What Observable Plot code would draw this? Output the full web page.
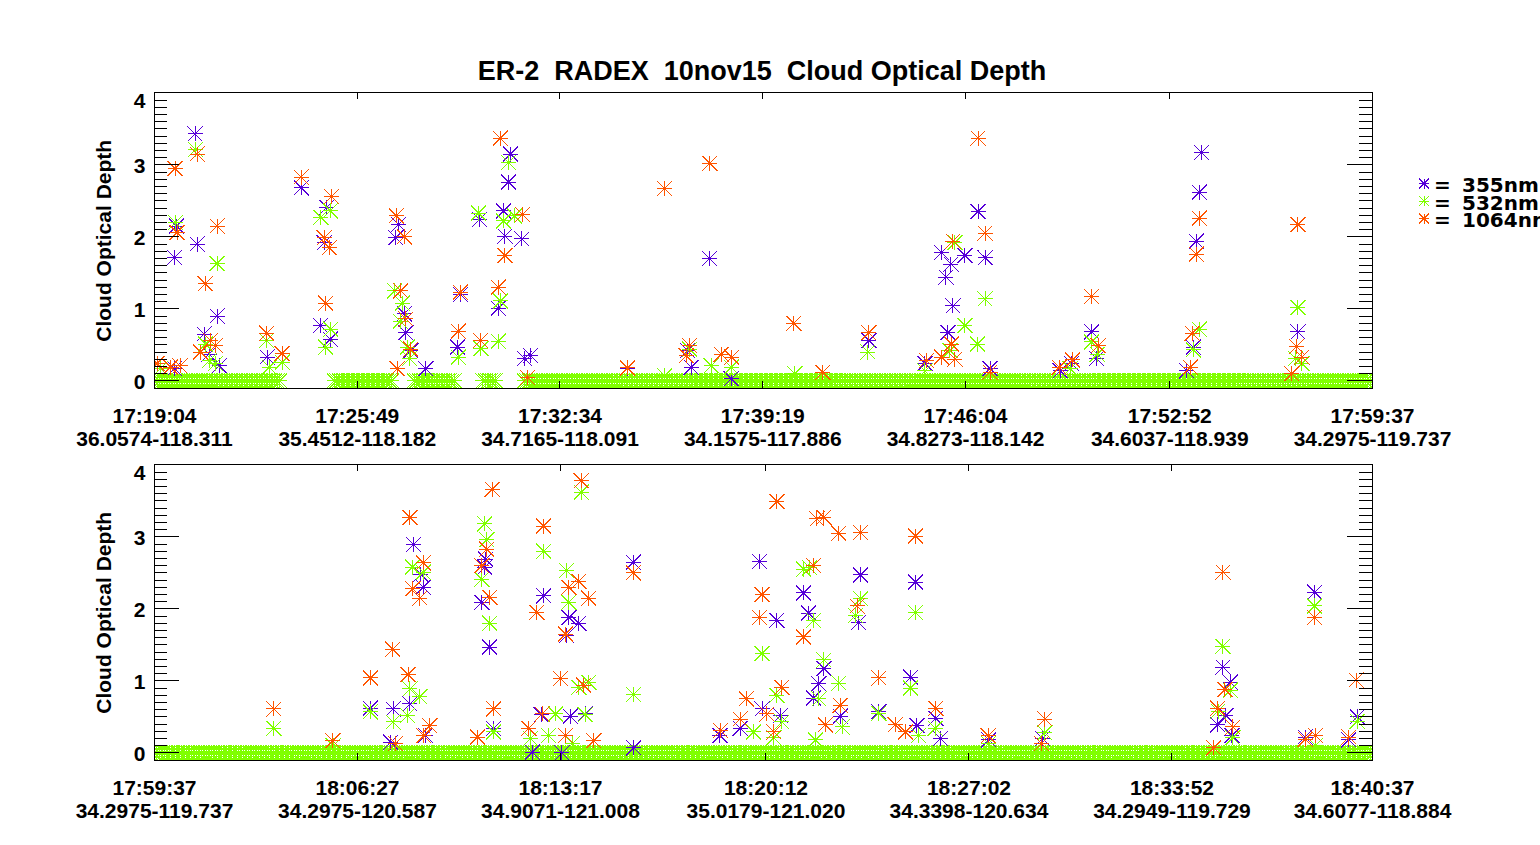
<!DOCTYPE html>
<html>
<head>
<meta charset="utf-8">
<script src="https://cdn.jsdelivr.net/npm/d3@7"></script>
<script src="https://cdn.jsdelivr.net/npm/@observablehq/plot@0.6"></script>
<style>
  html, body { margin: 0; padding: 0; background: #fff; width: 1540px; height: 845px; overflow: hidden; }
  #wrap { position: relative; width: 1540px; height: 845px; }
  .abs { position: absolute; left: 0; }
</style>
</head>
<body>
<div id="wrap">
  <svg id="overlay" class="abs" style="top:0" width="1540" height="845"></svg>
  <div id="p1" class="abs" style="top:0"></div>
  <div id="p2" class="abs" style="top:450px"></div>
</div>
<script>
// ---------------- DATA ----------------
const title = "ER-2  RADEX  10nov15  Cloud Optical Depth";
const yTitle = "Cloud Optical Depth";
const seriesLabels = ["355nm", "532nm", "1064nm"];
const yTickValues = [0, 1, 2, 3, 4];

// Panel 1 tick labels
const p1Times = ["17:19:04", "17:25:49", "17:32:34", "17:39:19", "17:46:04", "17:52:52", "17:59:37"];
const p1Locs = ["36.0574-118.311", "35.4512-118.182", "34.7165-118.091", "34.1575-117.886", "34.8273-118.142", "34.6037-118.939", "34.2975-119.737"];
// Panel 2 tick labels
const p2Times = ["17:59:37", "18:06:27", "18:13:17", "18:20:12", "18:27:02", "18:33:52", "18:40:37"];
const p2Locs = ["34.2975-119.737", "34.2975-120.587", "34.9071-121.008", "35.0179-121.020", "34.3398-120.634", "34.2949-119.729", "34.6077-118.884"];

// Sampling interval (s) of the 532nm record where it is exactly zero (clear sky)
const sampleStep = 5;
// Runs [start s, end s] of zero-valued 532nm samples (seconds after panel start)
const p1ZeroRuns = [[0, 251], [359, 475], [519, 601], [656, 681], [739, 2433]];
const p2ZeroRuns = [[0, 2460]];

// Cloud optical depth samples: [seconds after panel start, value]
const p1_355 = [[40,0.17],[81,3.43],[40,1.71],[44,2.15],[85,1.90],[125,0.90],[99,0.65],[109,0.37],[129,0.21],[225,0.33],[293,2.68],[344,2.41],[339,1.92],[332,0.77],[351,0.58],[487,2.17],[482,1.99],[499,0.93],[502,0.67],[512,0.42],[542,0.17],[611,1.20],[605,0.47],[649,2.24],[651,0.56],[711,3.15],[707,2.76],[697,2.36],[700,2.01],[734,1.97],[687,1.01],[739,0.31],[751,0.35],
  [1109,1.70],[1065,0.42],[1072,0.19],[1152,0.03],[1427,0.56],[1539,0.24],[1572,1.78],[1591,1.62],[1581,1.44],[1619,1.74],[1595,1.04],[1585,0.67],[945,0.17],
  [1645,2.35],[1659,1.71],[1669,0.17],[1809,0.14],[1832,0.24],[1872,0.68],[1882,0.31],[2091,3.17],[2087,2.62],[2081,1.94],[2075,0.47],[2284,0.68],[2062,0.14]];
const p1_532 = [[82,3.21],[42,2.20],[125,1.63],[102,0.51],[109,0.28],[122,0.24],[12,0.17],[224,0.56],[229,0.19],[255,0.26],[332,2.27],[351,2.36],[352,0.72],[342,0.47],[480,1.25],[495,1.08],[491,0.83],[505,0.47],[509,0.31],[607,0.33],[647,2.33],[652,0.45],[707,3.03],[697,2.22],[719,2.29],[687,0.55],[691,1.11],
  [1599,1.92],[1619,0.77],[1589,0.42],[1425,0.40],[1069,0.44],[1112,0.21],[1152,0.19],[1279,0.10],[1019,0.07],[1539,0.14],
  [1659,1.14],[1644,0.51],[1872,0.54],[1883,0.37],[1829,0.17],[2087,0.72],[2075,0.43],[2284,1.02],[2279,0.31],[2292,0.24]];
const p1_1064 = [[5,0.24],[32,0.19],[51,0.21],[41,2.95],[45,2.06],[85,3.15],[125,2.15],[101,1.35],[112,0.56],[122,0.49],[92,0.40],[224,0.66],[255,0.38],[293,2.83],[353,2.56],[339,1.99],[349,1.85],[342,1.08],[483,2.29],[499,2.00],[492,1.25],[502,0.86],[512,0.44],[485,0.17],[611,1.23],[607,0.69],[651,0.56],[691,3.37],[735,2.31],[700,1.74],[687,1.30],[745,0.05],
  [1109,3.02],[1019,2.67],[1277,0.80],[1427,0.67],[1132,0.37],[1153,0.33],[1069,0.49],[1062,0.35],[945,0.18],[1542,0.28],[1572,0.33],[1592,0.51],[1599,0.30],[1595,1.94],[1335,0.12],
  [1645,3.37],[1659,2.05],[1872,1.17],[1885,0.49],[1834,0.29],[1807,0.19],[2087,2.26],[2081,1.76],[2073,0.66],[2069,0.19],[2284,2.17],[2281,0.48],[2292,0.33],[2272,0.10],[1669,0.12]];

const p2_355 = [[436,0.62],[482,0.61],[516,0.68],[523,2.89],[538,2.48],[543,2.30],[677,1.47],[661,2.09],[669,2.69],[667,2.58],[786,2.18],[781,0.53],[685,0.34],[763,0.01],[547,0.24],[477,0.15],
  [967,2.65],[837,1.88],[857,1.80],[832,1.63],[877,0.98],[840,0.51],[870,0.54],[1222,2.66],[1257,1.84],[1311,2.22],[1321,1.94],[1352,1.17],[1342,0.96],[1331,0.76],[1426,2.47],[1422,1.81],[1537,2.37],[1527,1.05],[1463,0.57],[1385,0.51],[1578,0.48],[1540,0.38],[1227,0.61],[1264,0.52],[1142,0.24],[1183,0.34],[968,0.07],[1587,0.20],[823,0.00],
  [2158,1.19],[2173,0.98],[2164,0.52],[2147,0.39],[2176,0.24],[2343,2.23],[2429,0.50],[2324,0.22],[2412,0.18],[1793,0.20],[1685,0.18]];
const p2_532 = [[241,0.34],[436,0.57],[482,0.43],[511,0.52],[516,0.89],[536,0.78],[521,2.58],[543,2.51],[667,3.18],[671,2.96],[661,2.41],[677,1.80],[786,2.80],[810,0.54],[685,0.29],[759,0.20],[796,0.24],[361,0.10],
  [862,3.62],[832,2.53],[837,2.09],[967,0.81],[857,0.91],[877,0.98],[870,0.53],[1227,1.38],[1331,1.84],[1311,2.55],[1323,2.57],[1352,1.29],[1382,0.97],[1342,0.75],[1257,0.80],[1426,2.14],[1416,1.91],[1537,1.95],[1527,0.90],[1463,0.55],[1267,0.43],[1210,0.29],[1251,0.21],[1389,0.36],[1577,0.34],[1543,0.24],[844,0.13],[1335,0.18],
  [2158,1.48],[2173,0.87],[2148,0.58],[2178,0.21],[2343,2.04],[2429,0.44],[1798,0.28],[1685,0.13],[2345,0.10]];
const p2_1064 = [[241,0.61],[360,0.17],[436,1.04],[481,1.44],[512,1.09],[516,3.27],[543,2.64],[522,2.28],[536,2.15],[556,0.38],[682,3.66],[671,2.83],[661,2.60],[677,2.16],[685,0.61],[786,3.15],[772,1.95],[820,1.03],[783,0.54],[756,0.34],[652,0.22],[487,0.13],[544,0.24],
  [862,3.78],[1257,3.49],[1338,3.25],[1352,3.27],[1382,3.05],[1426,3.06],[1537,3.01],[1331,2.60],[967,2.50],[857,2.38],[837,2.30],[877,2.15],[830,1.65],[1227,2.20],[1222,1.88],[1311,1.61],[1419,2.04],[1463,1.04],[1267,0.91],[1195,0.75],[1385,0.66],[1578,0.62],[1237,0.54],[1183,0.47],[1143,0.31],[1355,0.39],[1496,0.39],[1517,0.29],[867,0.94],[830,0.24],[887,0.17],[1251,0.29],
  [1684,0.24],[1798,0.47],[1791,0.13],[2158,2.51],[2162,0.88],[2147,0.62],[2178,0.36],[2343,1.88],[2427,1.01],[2345,0.24],[2324,0.19],[2412,0.22],[2139,0.07]];

// ---------------- STYLE ----------------
const colors = ["#5600d8", "#80ff00", "#ff5500"];
const FONT = "'Liberation Sans', Arial, Helvetica, sans-serif";
const LEGFONT = "'DejaVu Sans', sans-serif";
const W = 1540, ML = 154, MR = 168, IW = W - ML - MR, IH = 296;

// IDL-style asterisk: "+" and "x" in the same square
const star8 = {
  draw(ctx, size) {
    const h = Math.sqrt(size / Math.PI);
    ctx.moveTo(-h, 0); ctx.lineTo(h, 0);
    ctx.moveTo(0, -h); ctx.lineTo(0, h);
    ctx.moveTo(-h, -h); ctx.lineTo(h, h);
    ctx.moveTo(-h, h); ctx.lineTo(h, -h);
  }
};

function secs(s) { const [h, m, x] = s.split(":").map(Number); return h * 3600 + m * 60 + x; }

function panel({times, locs, zeroRuns, s355, s532, s1064, height, marginTop, marginBottom}) {
  const t0 = secs(times[0]);
  const ticks = times.map((tm, i) => ({t: secs(tm) - t0, time: tm, loc: locs[i]}));
  const tMax = ticks[ticks.length - 1].t;
  // expand run-length encoded zero samples
  const zeros = zeroRuns.flatMap(([a, b]) => d3.range(a, b + 0.001, sampleStep).map(t => [t, 0]));
  const minorY = d3.range(0, 41).map(i => i / 10);
  const dotOpts = (c) => ({x: d => d[0], y: d => d[1], r: 7.5, symbol: star8, fill: "none", stroke: c, strokeWidth: 1, clip: true, shapeRendering: "crispEdges"});
  const txt = {fontFamily: FONT, fontWeight: "bold", fontSize: 21, fill: "black"};
  return Plot.plot({
    width: W, height, marginLeft: ML, marginRight: MR, marginTop, marginBottom,
    style: {background: "transparent", fontFamily: FONT},
    x: {domain: [0, tMax], axis: null},
    y: {domain: [-0.11, 4], axis: null},
    marks: [
      Plot.dot(zeros, dotOpts(colors[1])),
      Plot.dot(s355, dotOpts(colors[0])),
      Plot.dot(s532, dotOpts(colors[1])),
      Plot.dot(s1064, dotOpts(colors[2])),
      Plot.ruleY(minorY, {y: d => d, insetRight: IW - 13, stroke: "black", shapeRendering: "crispEdges"}),
      Plot.ruleY(minorY, {y: d => d, insetLeft: IW - 13, stroke: "black", shapeRendering: "crispEdges"}),
      Plot.ruleY(yTickValues, {y: d => d, insetRight: IW - 25, stroke: "black", shapeRendering: "crispEdges"}),
      Plot.ruleY(yTickValues, {y: d => d, insetLeft: IW - 25, stroke: "black", shapeRendering: "crispEdges"}),
      Plot.ruleX(ticks, {x: "t", insetBottom: IH - 7, stroke: "black", shapeRendering: "crispEdges"}),
      Plot.ruleX(ticks, {x: "t", insetTop: IH - 7, stroke: "black", shapeRendering: "crispEdges"}),
      Plot.frame({stroke: "black", shapeRendering: "crispEdges"}),
      Plot.text(ticks, {x: "t", text: "time", frameAnchor: "bottom", lineAnchor: "middle", dy: 27, ...txt}),
      Plot.text(ticks, {x: "t", text: "loc", frameAnchor: "bottom", lineAnchor: "middle", dy: 50, ...txt}),
      Plot.text(yTickValues.filter(v => v < 4), {y: d => d, text: d => String(d), frameAnchor: "left", lineAnchor: "middle", dx: -9, dy: 1, textAnchor: "end", ...txt}),
      Plot.text(yTickValues.filter(v => v === 4), {y: d => d, text: d => String(d), frameAnchor: "left", lineAnchor: "middle", dx: -9, dy: 8.3, textAnchor: "end", ...txt}),
      Plot.text([yTitle], {text: d => d, frameAnchor: "left", textAnchor: "middle", lineAnchor: "middle", dx: -50.7, rotate: -90, ...txt})
    ]
  });
}

document.getElementById("p1").appendChild(panel({
  times: p1Times, locs: p1Locs, zeroRuns: p1ZeroRuns, s355: p1_355, s532: p1_532, s1064: p1_1064,
  height: 450, marginTop: 92.3, marginBottom: 61.7
}));
document.getElementById("p2").appendChild(panel({
  times: p2Times, locs: p2Locs, zeroRuns: p2ZeroRuns, s355: p2_355, s532: p2_532, s1064: p2_1064,
  height: 395, marginTop: 14.3, marginBottom: 84.7
}));

// ---------------- TITLE & LEGEND ----------------
const ns = "http://www.w3.org/2000/svg";
const ov = document.getElementById("overlay");
function el(name, attrs, parent) {
  const e = document.createElementNS(ns, name);
  for (const k in attrs) e.setAttribute(k, attrs[k]);
  (parent || ov).appendChild(e);
  return e;
}
const t = el("text", {x: 762, y: 80, "text-anchor": "middle", "font-family": FONT, "font-weight": "bold", "font-size": 27, style: "white-space:pre"});
t.textContent = title;

const legY = [183.5, 201, 218.5];
const legBase = [192, 209.5, 227];
seriesLabels.forEach((lab, i) => {
  const cx = 1424, cy = legY[i], h = 5;
  el("path", {d: `M${cx - h},${cy}H${cx + h}M${cx},${cy - h}V${cy + h}M${cx - h},${cy - h}L${cx + h},${cy + h}M${cx - h},${cy + h}L${cx + h},${cy - h}`,
    stroke: colors[i], "stroke-width": 1, fill: "none", "shape-rendering": "crispEdges"});
  const tx = el("text", {y: legBase[i], "font-family": LEGFONT, "font-weight": "bold", "font-size": 20});
  const a = el("tspan", {x: 1434}, tx); a.textContent = "=";
  const b = el("tspan", {x: 1462}, tx); b.textContent = lab;
});
</script>
</body>
</html>
